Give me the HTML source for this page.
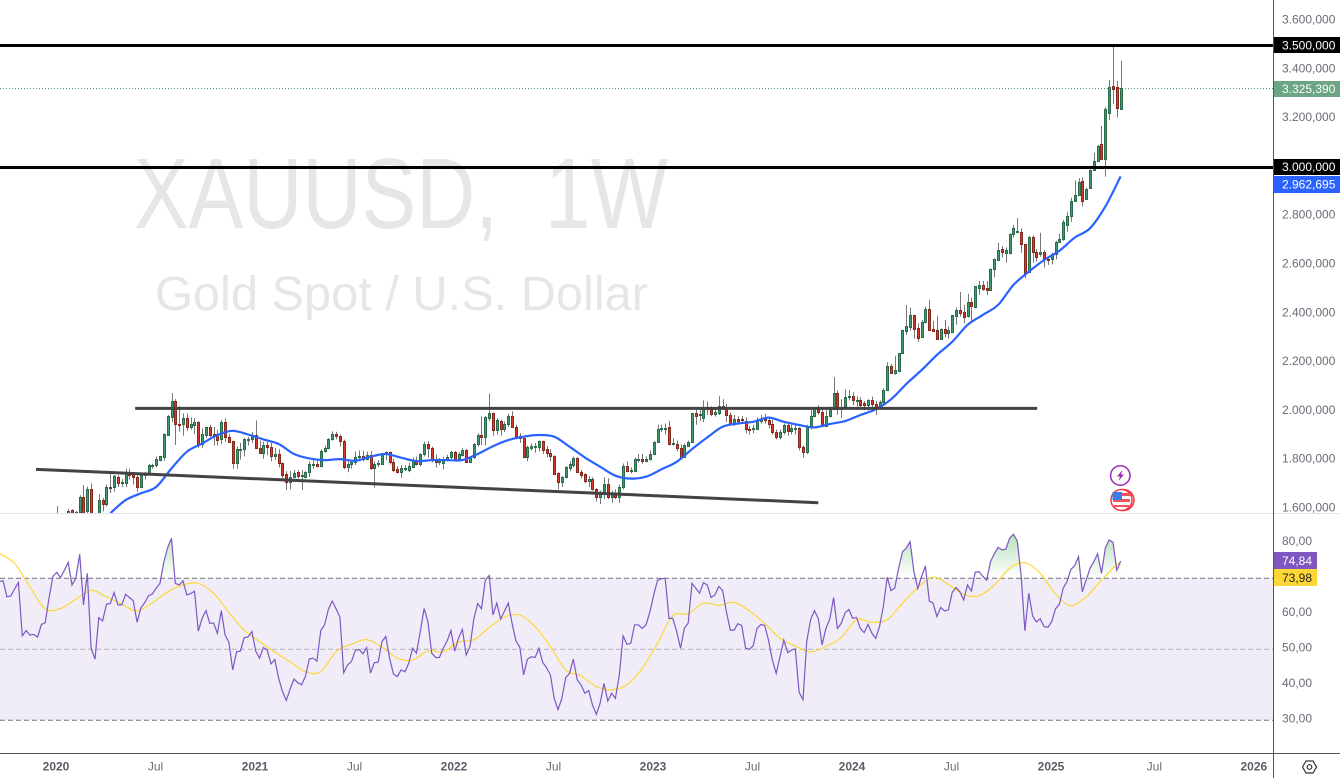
<!DOCTYPE html>
<html lang="en">
<head>
<meta charset="utf-8">
<title>XAUUSD 1W chart</title>
<style>
html,body{margin:0;padding:0;background:#fff;width:1340px;height:778px;overflow:hidden}
svg{display:block;font-family:"Liberation Sans",Arial,sans-serif}
</style>
</head>
<body>
<svg id="chart" width="1340" height="778" viewBox="0 0 1340 778" xmlns="http://www.w3.org/2000/svg">
  <defs>
    <clipPath id="priceClip"><rect x="0" y="0" width="1273" height="513"/></clipPath>
    <clipPath id="rsiClip"><rect x="0" y="514" width="1273" height="239"/></clipPath>
    <clipPath id="obClip"><rect x="0" y="514" width="1273" height="64.3"/></clipPath>
    <linearGradient id="obGrad" gradientUnits="userSpaceOnUse" x1="0" y1="535" x2="0" y2="578">
      <stop offset="0" stop-color="#4caf50" stop-opacity="0.38"/>
      <stop offset="1" stop-color="#4caf50" stop-opacity="0"/>
    </linearGradient>
  </defs>
  <rect x="0" y="0" width="1340" height="778" fill="#ffffff"/>
  <g font-size="100" fill="#e6e6e6">
    <text x="134" y="228" textLength="364" lengthAdjust="spacingAndGlyphs">XAUUSD,</text>
    <text x="545" y="228" textLength="123" lengthAdjust="spacingAndGlyphs">1W</text>
  </g>
  <text x="155" y="310" font-size="48" fill="#e6e6e6" textLength="493" lengthAdjust="spacingAndGlyphs">Gold Spot / U.S. Dollar</text>
  <g id="pricePane" clip-path="url(#priceClip)"></g>
  <g id="rsiPane" clip-path="url(#rsiClip)"></g>
  <line x1="0" y1="513.5" x2="1340" y2="513.5" stroke="#e0e3eb"/>
  <line x1="1273.5" y1="0" x2="1273.5" y2="778" stroke="#555"/>
  <line x1="0" y1="753.5" x2="1340" y2="753.5" stroke="#555"/>
  <g id="axisLabels" font-size="12"></g>

  <g>
    <rect x="1274" y="37" width="66" height="16" fill="#000"/>
    <text x="1282" y="49.5" font-size="12" fill="#fff">3.500,000</text>
  </g>
  <g>
    <rect x="1274" y="81" width="66" height="16" fill="#6ba583"/>
    <text x="1282" y="93" font-size="12" fill="#fff">3.325,390</text>
  </g>
  <g>
    <rect x="1274" y="159" width="66" height="16" fill="#000"/>
    <text x="1282" y="171" font-size="12" fill="#fff">3.000,000</text>
  </g>
  <g>
    <rect x="1274" y="176" width="66" height="17" fill="#2962ff"/>
    <text x="1282" y="188.5" font-size="12" fill="#fff">2.962,695</text>
  </g>
  <g>
    <rect x="1274" y="552" width="43" height="17" fill="#7e57c2"/>
    <text x="1282" y="565" font-size="12" fill="#fff">74,84</text>
  </g>
  <g>
    <rect x="1274" y="569" width="43" height="17" fill="#fdd835"/>
    <text x="1282" y="582" font-size="12" fill="#222">73,98</text>
  </g>

  <g>
    <circle cx="1120.3" cy="475.5" r="9.7" fill="#fff" stroke="#9c27b0" stroke-width="1.5"/>
    <polygon points="1122.5,470 1117,476.5 1120,476.5 1118.5,481 1124,474.5 1121,474.5" fill="#9c27b0"/>
  </g>
  <g>
    <circle cx="1123.5" cy="500" r="10.5" fill="#fff" stroke="#f23645" stroke-width="1.5"/>
    <circle cx="1121.5" cy="500" r="10.5" fill="#fff" stroke="#f23645" stroke-width="1.5"/>
    <rect x="1113" y="493" width="17" height="3" fill="#f7525f"/>
    <rect x="1113" y="499" width="17" height="3" fill="#f7525f"/>
    <rect x="1114" y="505" width="15" height="2" fill="#f7525f"/>
    <rect x="1112.5" y="492" width="9.5" height="8" fill="#3d7be8"/>
  </g>
  <g fill="none" stroke="#333" stroke-width="1.2">
    <polygon points="1302.5,767 1306,761 1313,761 1316.5,767 1313,773 1306,773"/>
    <circle cx="1309.5" cy="767" r="2.3"/>
  </g>
</svg>

<script>
// Weekly candles [open, high, low, close], first candle = first week of 2020.
const candleOHLC = [
[1552,1611,1535,1557],[1557,1565,1536,1557],[1557,1577,1546,1571],[1572,1600,1565,1592],[1595,1598,1550,1570],[1565,1592,1560,1588],[1589,1656,1585,1650],[1650,1698,1570,1585],[1592,1692,1575,1680],[1680,1704,1520,1530],
[1530,1575,1451,1498],[1498,1660,1490,1636],[1636,1645,1590,1620],[1620,1700,1610,1688],[1688,1747,1665,1686],[1688,1739,1670,1735],[1732,1738,1690,1705],[1708,1722,1690,1709],[1707,1765,1690,1746],[1748,1765,1720,1740],
[1743,1748,1700,1732],[1732,1745,1670,1691],[1691,1745,1685,1739],[1737,1752,1720,1748],[1748,1785,1745,1780],[1778,1785,1765,1780],[1778,1815,1770,1803],[1800,1818,1795,1817],[1814,1910,1797,1907],[1903,1985,1900,1980],
[1978,2075,1955,2041],[2041,2050,1862,1950],[1950,2021,1916,1946],[1946,1992,1900,1971],[1971,1992,1920,1937],[1937,1975,1925,1946],[1944,1973,1906,1955],[1955,1960,1850,1864],[1864,1930,1850,1905],[1903,1935,1890,1934],
[1934,1945,1895,1903],[1905,1935,1860,1904],[1905,1925,1860,1882],[1885,1965,1865,1955],[1955,1971,1875,1893],[1893,1908,1870,1875],[1878,1880,1764,1789],[1789,1855,1765,1844],[1843,1870,1802,1845],[1844,1890,1815,1885],
[1885,1895,1860,1887],[1885,1915,1870,1903],[1903,1963,1850,1851],[1851,1880,1825,1830],[1830,1875,1805,1862],[1862,1875,1820,1852],[1852,1878,1795,1817],[1817,1850,1800,1827],[1827,1845,1770,1789],[1789,1790,1720,1739],
[1741,1755,1677,1709],[1709,1755,1680,1732],[1732,1760,1725,1748],[1751,1760,1725,1736],[1735,1760,1677,1737],[1732,1755,1725,1750],[1750,1795,1730,1782],[1782,1800,1765,1783],[1782,1800,1770,1777],[1777,1845,1770,1836],
[1836,1860,1830,1848],[1848,1890,1845,1885],[1885,1918,1880,1909],[1909,1916,1885,1899],[1899,1905,1855,1879],[1879,1884,1763,1770],[1770,1800,1750,1786],[1786,1795,1765,1791],[1791,1835,1780,1814],[1814,1840,1800,1817],
[1817,1838,1795,1806],[1806,1835,1800,1819],[1819,1838,1760,1766],[1766,1795,1688,1786],[1786,1800,1772,1788],[1786,1830,1780,1823],[1823,1835,1800,1832],[1832,1835,1782,1791],[1791,1805,1750,1759],[1762,1775,1745,1752],
[1752,1780,1728,1767],[1767,1780,1755,1768],[1759,1790,1750,1776],[1773,1810,1770,1800],[1800,1815,1778,1786],[1786,1828,1775,1823],[1823,1875,1815,1868],[1868,1878,1810,1851],[1851,1855,1790,1800],[1800,1822,1770,1791],
[1791,1808,1780,1800],[1789,1814,1762,1803],[1800,1822,1795,1814],[1811,1838,1805,1833],[1834,1838,1795,1803],[1803,1832,1795,1825],[1819,1850,1815,1841],[1841,1845,1790,1793],[1793,1815,1790,1811],[1811,1870,1805,1866],
[1866,1910,1855,1903],[1903,1978,1862,1893],[1896,1980,1860,1975],[1974,2073,1960,1991],[1991,1995,1900,1923],[1923,1972,1905,1964],[1961,1965,1900,1926],[1926,1958,1915,1950],[1950,1990,1935,1980],[1980,2000,1935,1937],
[1937,1945,1885,1900],[1900,1910,1870,1889],[1889,1892,1807,1814],[1811,1860,1795,1852],[1851,1868,1840,1859],[1857,1870,1830,1858],[1855,1880,1835,1878],[1878,1880,1825,1841],[1844,1858,1810,1830],[1830,1845,1795,1817],
[1817,1820,1740,1743],[1746,1750,1680,1711],[1711,1735,1690,1732],[1732,1775,1725,1773],[1769,1795,1755,1782],[1780,1815,1770,1810],[1807,1812,1750,1752],[1752,1760,1725,1739],[1741,1745,1705,1715],[1715,1735,1690,1721],
[1721,1730,1675,1680],[1680,1685,1630,1650],[1650,1675,1620,1666],[1666,1730,1640,1702],[1702,1725,1640,1650],[1650,1675,1625,1664],[1664,1680,1640,1650],[1650,1700,1625,1688],[1688,1786,1680,1776],[1776,1795,1750,1756],
[1758,1770,1745,1759],[1756,1810,1750,1804],[1802,1825,1790,1804],[1804,1825,1785,1797],[1797,1815,1790,1803],[1803,1840,1798,1827],[1827,1878,1822,1873],[1873,1945,1870,1926],[1926,1945,1915,1930],[1932,1950,1905,1933],
[1934,1960,1860,1868],[1871,1890,1860,1872],[1868,1880,1835,1848],[1848,1865,1808,1814],[1814,1868,1810,1862],[1859,1880,1855,1873],[1873,1994,1870,1991],[1991,2010,1945,1982],[1986,2005,1960,1987],[1974,2045,1955,2012],
[2012,2040,1985,2011],[2008,2020,1980,1987],[1987,2010,1978,1998],[1995,2062,1985,2021],[2021,2050,2005,2015],[2015,2030,1955,1985],[1985,1995,1945,1948],[1948,1985,1940,1967],[1967,1980,1945,1961],[1967,1980,1950,1966],
[1961,1975,1910,1926],[1926,1940,1905,1925],[1929,1945,1910,1930],[1929,1975,1925,1961],[1961,1985,1950,1968],[1968,1990,1950,1966],[1964,1970,1930,1946],[1946,1965,1905,1916],[1916,1925,1885,1893],[1893,1925,1885,1916],
[1916,1950,1905,1944],[1944,1955,1900,1920],[1920,1945,1905,1930],[1929,1945,1905,1930],[1930,1935,1840,1852],[1852,1860,1810,1834],[1834,1945,1825,1937],[1937,2010,1925,1982],[1982,2015,1975,2011],[2011,2025,1985,1996],
[1996,2010,1935,1941],[1941,2005,1935,1982],[1982,2020,1975,2009],[2009,2140,2005,2077],[2077,2085,1985,2009],[2009,2050,1973,2019],[2021,2090,2015,2057],[2057,2088,2045,2064],[2064,2078,2025,2046],[2043,2062,2020,2046],
[2046,2058,2015,2026],[2032,2042,2005,2024],[2026,2050,2003,2046],[2046,2060,2015,2028],[2028,2042,1985,2012],[2015,2045,2012,2039],[2039,2094,2030,2087],[2087,2201,2085,2186],[2186,2194,2156,2158],[2158,2227,2150,2169],
[2167,2240,2160,2238],[2238,2335,2235,2333],[2331,2436,2313,2350],[2347,2425,2331,2393],[2393,2395,2299,2339],[2340,2361,2285,2302],[2303,2374,2300,2365],[2365,2429,2360,2418],[2418,2456,2330,2335],[2336,2370,2328,2329],
[2333,2391,2295,2298],[2298,2340,2295,2336],[2336,2374,2303,2322],[2322,2347,2299,2333],[2326,2395,2325,2393],[2392,2426,2354,2414],[2414,2489,2388,2404],[2406,2436,2361,2388],[2392,2481,2385,2448],[2448,2467,2371,2433],
[2429,2514,2428,2512],[2507,2534,2477,2518],[2518,2534,2494,2501],[2504,2534,2477,2499],[2499,2586,2497,2582],[2582,2627,2549,2623],[2621,2691,2617,2660],[2664,2677,2631,2654],[2650,2672,2609,2660],[2650,2729,2643,2725],
[2725,2764,2712,2750],[2736,2791,2729,2737],[2733,2750,2650,2684],[2684,2686,2545,2565],[2570,2718,2568,2716],[2713,2721,2609,2653],[2653,2664,2613,2634],[2643,2732,2634,2651],[2651,2660,2589,2624],[2623,2630,2600,2622],
[2623,2650,2602,2643],[2643,2699,2623,2693],[2693,2727,2690,2705],[2705,2784,2699,2774],[2765,2818,2736,2800],[2800,2875,2777,2862],[2862,2946,2858,2887],[2888,2955,2885,2939],[2944,2958,2839,2860],[2869,2915,2866,2910],
[2914,2992,2912,2989],[2989,3060,2985,3025],[3024,3092,3023,3086],[3094,3170,3033,3036],[3033,3246,2962,3239],[3221,3358,3194,3328],[3332,3500,3260,3320],[3328,3354,3204,3241],[3238,3436,3238,3325]
];
// 30-period moving average of price, one reading every 4 weeks from week 14.
const maFirstWeek = 14;
const maStep = 4;
const maValues = [1582,1636,1664,1690,1766,1834,1868,1903,1920,1905,1885,1866,1825,1807,1800,1804,1797,1814,1825,1810,1796,1800,1800,1800,1825,1857,1882,1896,1903,1896,1855,1811,1773,1736,1724,1732,1762,1793,1845,1893,1937,1950,1957,1974,1957,1944,1934,1948,1960,1985,2008,2049,2112,2169,2231,2285,2354,2395,2436,2518,2572,2620,2658,2712,2750,2839,2962.7];
// Horizontal levels and drawn trend lines (week, price).
const levelPrices = [3500,3000];
const lastPrice = 3325.39;
const resistanceWeeks = [20.5,256.2];
const resistancePrices = [2012,2012];
const supportWeeks = [-5.4,199];
const supportPrices = [1762,1625.4];
// Weekly RSI, first reading 15 weeks before the first candle.
const rsiFirstWeek = -15;
const rsiValues = [69.1,69.3,64.8,65.0,67.0,68.8,53.8,55.3,54.0,54.2,53.4,57.0,57.5,64.4,70.5,
71.7,70.2,72.3,74.5,68.1,70.0,76.8,62.5,71.4,50.3,47.2,58.9,58.0,62.7,62.9,66.0,62.5,62.5,65.5,64.6,63.7,57.6,61.7,63.1,65.1,65.6,67.2,68.6,74.7,78.7,
81.3,68.6,68.1,69.3,65.3,65.7,66.4,55.1,58.7,60.9,57.3,57.4,54.5,60.9,54.0,52.0,44.2,49.3,49.5,53.3,53.5,55.0,49.5,47.5,50.5,49.8,45.9,47.1,41.8,38.1,
35.6,38.8,41.6,40.6,40.0,42.4,47.3,47.5,46.7,55.3,56.9,61.3,63.6,61.4,59.1,43.4,45.6,46.5,49.6,50.0,48.7,50.5,43.3,46.2,46.4,52.2,53.6,47.5,43.0,42.3,
44.2,43.7,46.1,50.3,48.9,55.0,61.5,57.8,48.9,47.7,47.7,50.3,52.3,55.3,49.5,53.1,55.6,48.4,50.8,58.5,62.9,61.4,69.5,70.8,59.7,63.0,58.5,60.8,63.0,57.3,
52.4,50.6,42.8,47.2,47.9,47.7,50.3,46.3,44.8,42.8,36.2,33.0,36.2,42.0,43.2,47.2,41.4,40.0,37.6,38.4,34.3,31.7,34.8,40.4,35.4,37.6,36.2,42.8,53.8,51.4,
51.7,56.9,56.9,55.9,56.9,60.6,65.3,69.4,69.9,70.0,58.7,58.7,55.0,50.3,55.9,57.4,68.6,67.2,65.8,68.8,68.1,64.6,65.3,67.7,66.6,60.6,55.4,55.4,57.2,56.7,
50.3,50.0,51.0,55.9,57.0,56.7,52.6,47.0,43.2,47.9,52.6,49.1,49.8,50.1,37.9,35.8,52.3,58.3,60.9,58.7,51.2,55.9,58.5,64.6,55.9,57.3,60.3,61.2,58.7,59.0,
55.9,54.7,57.0,54.5,53.1,56.4,62.0,70.3,66.5,67.3,72.8,77.5,78.5,80.3,71.9,67.1,70.5,73.5,63.6,63.0,59.2,61.8,60.8,61.1,66.0,67.4,66.2,63.9,68.1,66.4,
71.7,71.9,70.5,69.5,74.7,76.9,78.7,78.0,78.2,81.3,82.4,80.5,70.9,55.2,65.8,59.4,57.7,58.6,56.4,56.2,57.8,61.4,62.7,67.2,69.1,72.5,73.6,76.1,66.2,69.5,
72.8,74.7,76.9,71.4,78.5,80.8,80.1,72.3,74.84];
// RSI moving average, one reading every 4 weeks from week -15, last reading at the final week.
const rsiMaStep = 4;
const rsiMaValues = [77.0,74.2,67.6,61.4,61.5,64.1,66.6,64.8,62.7,60.8,63.1,66.2,68.1,68.6,65.8,60.4,55.4,52.2,49.2,46.5,43.7,43.7,49.3,51.4,52.7,50.6,47.5,47.0,49.5,
49.3,52.0,52.7,56.1,59.1,59.7,56.4,50.8,44.2,42.5,39.5,38.6,40.0,44.6,51.7,59.5,60.0,63.0,62.4,63.2,60.8,57.3,53.1,50.9,49.3,50.8,53.3,58.3,57.6,
58.3,63.0,67.4,70.3,68.3,65.4,65.1,68.1,72.8,74.4,71.4,65.6,62.3,64.8,69.5,73.9,73.98];
const rsiLevels = [70,50,30];
// Axis ticks.
const priceTickValues = [3600,3400,3200,2800,2600,2400,2200,2000,1800,1600];
const priceTickLabels = ["3.600,000","3.400,000","3.200,000","2.800,000","2.600,000","2.400,000","2.200,000","2.000,000","1.800,000","1.600,000"];
const rsiTickValues = [80,60,50,40,30];
const rsiTickLabels = ["80,00","60,00","50,00","40,00","30,00"];
const timeTickWeeks = [0,26,52,78,104,130,156,182,208,234,260,287,313];
const timeTickLabels = ["2020","Jul","2021","Jul","2022","Jul","2023","Jul","2024","Jul","2025","Jul","2026"];

const NS = 'http://www.w3.org/2000/svg';
function xAt(w){ return 56.7 + 3.827 * w; }
function yPrice(p){ return 167.3 - (p - 3000) * 0.244; }
function yRsi(r){ return 649.3 - (r - 50) * 3.55; }
function mk(tag, attrs, parent){
  const el = document.createElementNS(NS, tag);
  for (const k in attrs) el.setAttribute(k, attrs[k]);
  parent.appendChild(el);
  return el;
}
function pts(list){ return list.map(function(p){ return p[0].toFixed(1) + ',' + p[1].toFixed(1); }).join(' '); }
// Smooth curve through the sampled readings (Catmull-Rom converted to cubic segments).
function smoothPath(list){
  let d = 'M' + list[0][0].toFixed(1) + ' ' + list[0][1].toFixed(1);
  for (let i = 0; i < list.length - 1; i++){
    const p0 = list[Math.max(i - 1, 0)], p1 = list[i], p2 = list[i + 1], p3 = list[Math.min(i + 2, list.length - 1)];
    const c1x = p1[0] + (p2[0] - p0[0]) / 6, c1y = p1[1] + (p2[1] - p0[1]) / 6;
    const c2x = p2[0] - (p3[0] - p1[0]) / 6, c2y = p2[1] - (p3[1] - p1[1]) / 6;
    d += 'C' + c1x.toFixed(1) + ' ' + c1y.toFixed(1) + ' ' + c2x.toFixed(1) + ' ' + c2y.toFixed(1) + ' ' + p2[0].toFixed(1) + ' ' + p2[1].toFixed(1);
  }
  return d;
}

const pricePane = document.getElementById('pricePane');
const rsiPane = document.getElementById('rsiPane');
const axisLabels = document.getElementById('axisLabels');

// ----- price pane -----
(function(){
  const lastY = Math.round(yPrice(lastPrice)) + 0.5;
  const lastLine = mk('line', {x1:0, x2:1273, y1:lastY, y2:lastY, stroke:'#4f9a76', 'stroke-dasharray':'1 2'}, pricePane);
  
  

  candleOHLC.forEach(function(row, i){
    const o = row[0], h = row[1], l = row[2], c = row[3];
    const up = c >= o;
    const x0 = Math.round(xAt(i)) - 1;
    const g = mk('g', {}, pricePane);
    
    
    mk('line', {x1:x0 + 1.5, x2:x0 + 1.5, y1:yPrice(h), y2:yPrice(l), stroke:'#777777'}, g);
    const top = Math.round(yPrice(Math.max(o, c)));
    const bottom = Math.round(yPrice(Math.min(o, c)));
    mk('rect', {x:x0 + 0.5, y:top + 0.5, width:2, height:Math.max(bottom - top, 1), fill:up ? '#3f9a70' : '#d8392a', stroke:up ? '#2a6b4c' : '#86291f'}, g);
  });

  const maPts = maValues.map(function(v, k){ return [xAt(maFirstWeek + k * maStep), yPrice(v)]; });
  const ma = mk('path', {d:smoothPath(maPts), fill:'none', stroke:'#2962ff', 'stroke-width':2.2, 'stroke-linejoin':'round'}, pricePane);
  
  

  const resistance = mk('line', {x1:xAt(resistanceWeeks[0]), y1:yPrice(resistancePrices[0]), x2:xAt(resistanceWeeks[1]), y2:yPrice(resistancePrices[1]), stroke:'#434343', 'stroke-width':3}, pricePane);
  
  

  const support = mk('line', {x1:xAt(supportWeeks[0]), y1:yPrice(supportPrices[0]), x2:xAt(supportWeeks[1]), y2:yPrice(supportPrices[1]), stroke:'#434343', 'stroke-width':3}, pricePane);
  
  

  levelPrices.forEach(function(p){
    const ly = Math.floor(yPrice(p)) + 0.5;
    const lv = mk('line', {x1:0, x2:1273, y1:ly, y2:ly, stroke:'#000', 'stroke-width':3}, pricePane);
    
    
  });
})();

// ----- RSI pane -----
(function(){
  const band = mk('rect', {x:0, y:yRsi(70), width:1273, height:yRsi(30) - yRsi(70), fill:'#f0edf9'}, rsiPane);
  
  

  rsiLevels.forEach(function(v){
    const ln = mk('line', {x1:0, x2:1273, y1:yRsi(v), y2:yRsi(v), stroke:v === 50 ? '#b4b4ba' : '#77767f', 'stroke-dasharray':'5 3'}, rsiPane);
    
    
  });

  const rsiPts = rsiValues.map(function(v, k){ return [xAt(rsiFirstWeek + k), yRsi(v)]; });
  const first = rsiPts[0], last = rsiPts[rsiPts.length - 1];
  const area = mk('polygon', {points:pts([[first[0], yRsi(70)]].concat(rsiPts, [[last[0], yRsi(70)]])), fill:'url(#obGrad)', 'clip-path':'url(#obClip)'}, rsiPane);
  
  

  const rsiMaPts = rsiMaValues.map(function(v, k){ return [xAt(Math.min(rsiFirstWeek + k * rsiMaStep, 278)), yRsi(v)]; });
  const yellow = mk('path', {d:smoothPath(rsiMaPts), fill:'none', stroke:'#fdd835', 'stroke-width':1.2}, rsiPane);
  
  

  const purple = mk('polyline', {points:pts(rsiPts), fill:'none', stroke:'#7e57c2', 'stroke-width':1.2}, rsiPane);
  
  
})();

// ----- axis labels -----
(function(){
  priceTickValues.forEach(function(v, k){
    const t = mk('text', {x:1282, y:yPrice(v) - 1.7 + 4.3, fill:'#6a6d78'}, axisLabels);
    
    
    t.textContent = priceTickLabels[k];
  });
  rsiTickValues.forEach(function(v, k){
    const t = mk('text', {x:1282, y:yRsi(v) - 2 + 4.3, fill:'#6a6d78'}, axisLabels);
    
    
    t.textContent = rsiTickLabels[k];
  });
  timeTickWeeks.forEach(function(w, k){
    const isYear = timeTickLabels[k] !== 'Jul';
    const t = mk('text', {x:xAt(w) - 0.7, y:770.5, 'text-anchor':'middle', fill:isYear ? '#5a5d68' : '#6a6d78', 'font-weight':isYear ? 'bold' : 'normal'}, axisLabels);
    
    
    t.textContent = timeTickLabels[k];
  });
})();
</script>
</body>
</html>
